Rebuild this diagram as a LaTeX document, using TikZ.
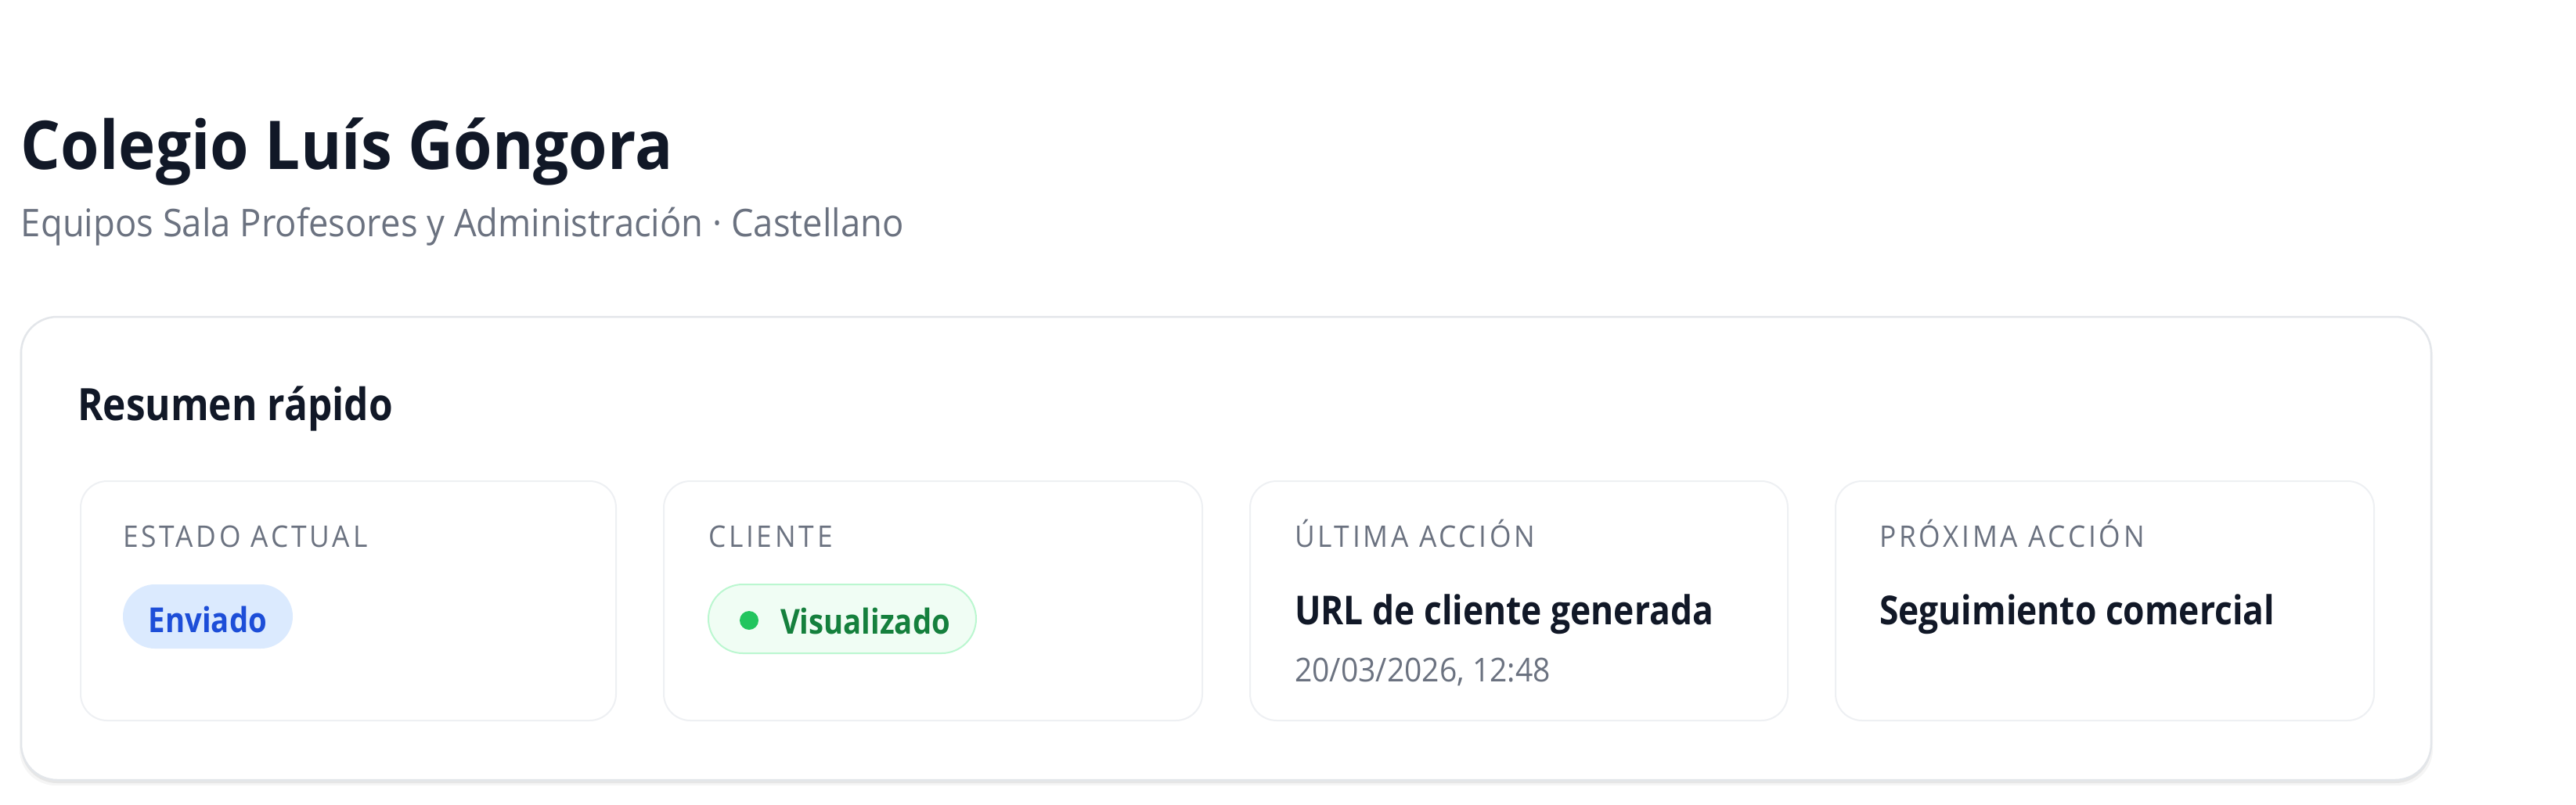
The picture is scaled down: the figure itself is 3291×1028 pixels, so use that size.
\documentclass[tikz,border=0pt]{standalone}
\usepackage{fontspec}
\setmainfont{Open Sans}[FakeStretch=0.93]
\newfontfamily\semib{Open Sans}[FakeStretch=0.87]
\definecolor{ink}{HTML}{111827}
\definecolor{muted}{HTML}{6B7280}
\definecolor{cardline}{HTML}{E3E6EA}
\definecolor{innerline}{HTML}{EEF0F3}
\definecolor{bluefill}{HTML}{DBEAFE}
\definecolor{bluetext}{HTML}{1D4ED8}
\definecolor{greenfill}{HTML}{F0FDF4}
\definecolor{greenline}{HTML}{BBF7D0}
\definecolor{greendot}{HTML}{22C55E}
\definecolor{greentext}{HTML}{15803D}
\newcommand{\fsz}[1]{\fontsize{#1}{#1}\selectfont}
\begin{document}
\begin{tikzpicture}[x=1pt,y=-1pt,
  txt/.style={inner sep=0pt, outer sep=0pt},
  outercard/.style={draw=cardline, fill=white, line width=2.5pt, rounded corners=46pt},
  innercard/.style={draw=innerline, fill=white, line width=2pt, rounded corners=34pt},
  lbl/.style={txt, anchor=base west, text=muted, font=\fsz{38}\addfontfeatures{LetterSpace=10}},
  val/.style={txt, anchor=base west, text=ink, font=\semib\bfseries\fsz{51}},
  pill/.style={rounded corners=41pt, inner sep=0pt}]
\path[use as bounding box, fill=white] (0,0) rectangle (3291,1028);
% titles
\node[txt, anchor=base west, text=ink, font=\fsz{86}\bfseries] (title) at (27,216) {Colegio Luís Góngora};
\node[txt, anchor=base west, text=muted, font=\fsz{48.8}] (subtitle) at (27,302) {Equipos Sala Profesores y Administración · Castellano};
% outer card with shadow
\fill[black, opacity=0.04, rounded corners=46pt] (25,409) rectangle (3108,1004);
\fill[black, opacity=0.06, rounded corners=46pt] (27,407) rectangle (3106,1001);
\draw[outercard] (27,405) rectangle (3106,997);
\node[txt, anchor=base west, text=ink, font=\semib\bfseries\fsz{57}] (resumen) at (99,537) {Resumen rápido};
% inner cards
\draw[innercard] (103,615) rectangle (787,921);
\draw[innercard] (848,615) rectangle (1536,921);
\draw[innercard] (1597,615) rectangle (2284,921);
\draw[innercard] (2345,615) rectangle (3033,921);
% labels
\node[lbl] (l1) at (157,699) {ESTADO ACTUAL};
\node[lbl] (l2) at (905,699) {CLIENTE};
\node[lbl] (l3) at (1654,699) {ÚLTIMA ACCIÓN};
\node[lbl] (l4) at (2401,699) {PRÓXIMA ACCIÓN};
% pill Enviado
\node[pill, fill=bluefill, minimum width=217pt, minimum height=82pt] (envpill) at (265.5,788) {};
\node[txt, anchor=base, text=bluetext, font=\semib\bfseries\fsz{44}] (envtxt) at (265.5,808) {Enviado};
% pill Visualizado
\node[pill, fill=greenfill, draw=greenline, line width=2pt, minimum width=342pt, minimum height=88pt, rounded corners=44pt] (vispill) at (1076,791) {};
\node[circle, fill=greendot, minimum size=24pt, inner sep=0pt] (visdot) at (957,793) {};
\node[txt, anchor=base west, text=greentext, font=\semib\bfseries\fsz{44}] (vistxt) at (997,810) {Visualizado};
% values
\node[val] (v3) at (1654,798) {URL de cliente generada};
\node[txt, anchor=base west, text=muted, font=\fsz{42}] (d3) at (1654,871) {20/03/2026, 12:48};
\node[val] (v4) at (2401,798) {Seguimiento comercial};
\end{tikzpicture}
\end{document}
